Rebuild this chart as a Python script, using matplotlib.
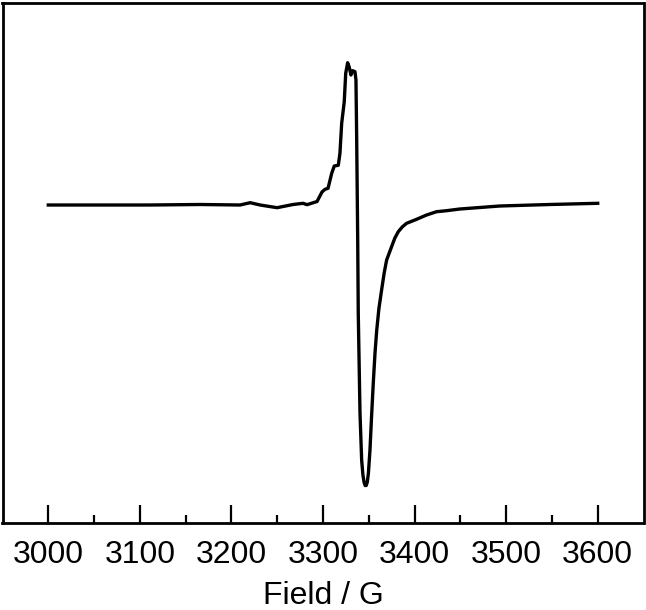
import matplotlib
matplotlib.use("Agg")
import matplotlib.pyplot as plt
from matplotlib.ticker import FixedLocator

plt.rcParams['font.family'] = ['Liberation Sans', 'DejaVu Sans']

field = [3000, 3056.7, 3111.3, 3165.8, 3209.5, 3220.4, 3231.3, 3249.8, 3267.3,
         3278.2, 3282.5, 3293.5, 3298.9, 3302.2, 3305.5, 3309.5, 3312.3, 3316.7,
         3318.5, 3320.4, 3323.2, 3324.8, 3326.9, 3328.7, 3330.5, 3332.4, 3334.9,
         3336.0, 3336.8, 3337.9, 3338.5, 3340.4, 3342.2, 3343.6, 3344.8, 3346.0,
         3347.2, 3348.4, 3349.6, 3351.3, 3353.0, 3354.9, 3356.8, 3358.6, 3361.0,
         3364.0, 3366.8, 3369.5, 3374.9, 3378.5, 3382.2, 3386.5, 3391.3,
         3402.2, 3413.1, 3424.0, 3434.9, 3449.5, 3493.1, 3547.6, 3600]
signal = [0, 0, 0, 0.5, 0, 2.3, 0, -2.7, 0.5,
          1.7, 0.3, 3.5, 13, 15.7, 16.7, 31.7, 39, 39.7,
          51.7, 81.7, 103.3, 131.7, 142.3, 137.7, 130, 134.3, 133.3,
          125, 65, -35, -108, -208, -255, -270, -277, -280.5,
          -280.5, -277, -268, -245, -212, -178, -148, -126, -104,
          -85, -68, -55, -41.7, -33, -26.7, -22, -18.3,
          -14.3, -10, -6.7, -5.7, -4, -1, 0.5, 1.7]

x_ticks = [3000, 3100, 3200, 3300, 3400, 3500, 3600]
x_minor = [3050, 3150, 3250, 3350, 3450, 3550]
x_label = "Field / G"

fig = plt.figure(figsize=(6.46, 6.10), dpi=100)
ax = fig.add_axes([2.5/646, (610-523)/610, (643.5-2.5)/646, (523-2.5)/610])
ax.plot(field, signal, color='black', lw=2.4, solid_joinstyle='round')
ax.set_xlim(2950, 3650)
ax.set_ylim(-318, 202.5)
ax.set_xticks(x_ticks)
ax.xaxis.set_minor_locator(FixedLocator(x_minor))
ax.set_yticks([])
ax.tick_params(axis='x', which='major', direction='in', length=13, width=1.6,
               labelsize=23, pad=12)
ax.tick_params(axis='x', which='minor', direction='in', length=6, width=1.6)
for s in ax.spines.values():
    s.set_linewidth(2.0)
ax.set_xlabel(x_label, fontsize=23, labelpad=8)
fig.savefig("out.png", dpi=100)
